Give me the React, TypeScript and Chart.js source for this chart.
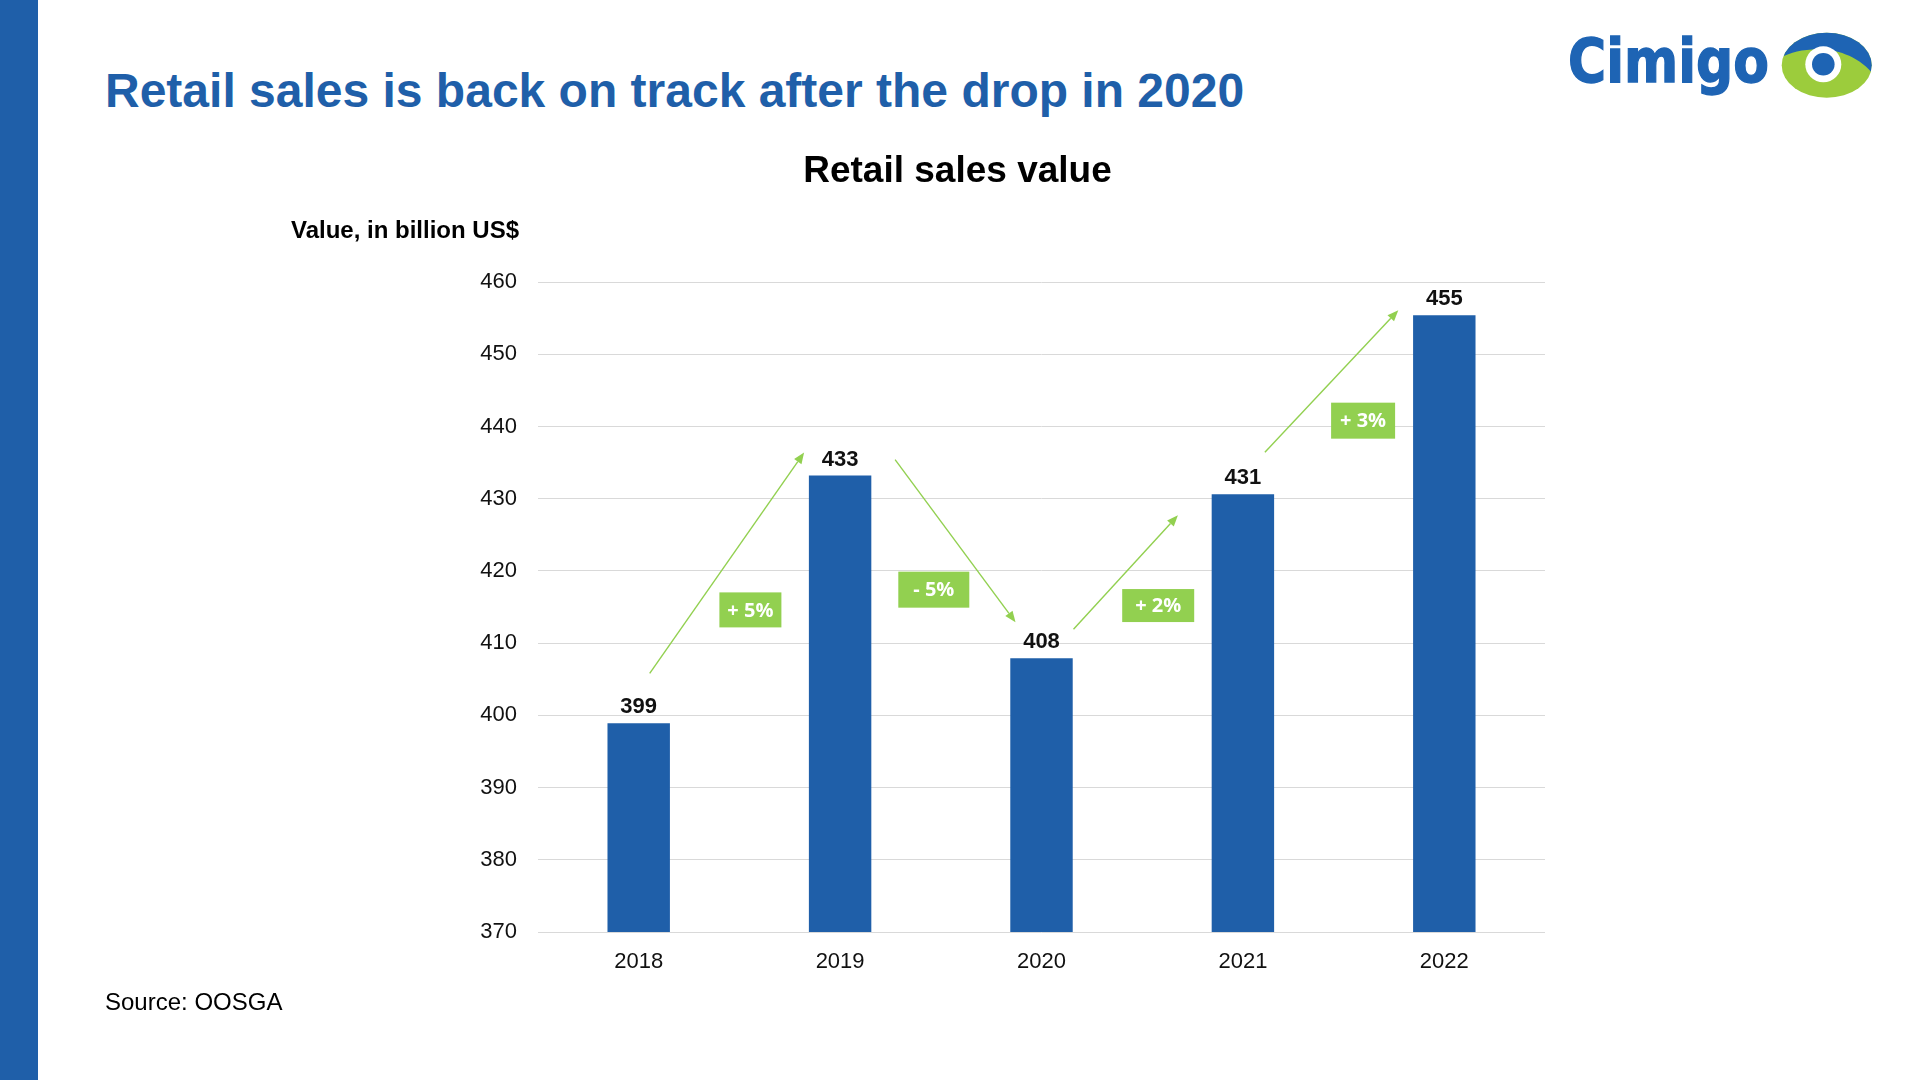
import React, { useEffect, useRef } from "react";
import { Chart, registerables } from "chart.js";

Chart.register(...registerables);

// ---- data ----
const years = ["2018", "2019", "2020", "2021", "2022"];
const salesValues = [398.9, 433.2, 407.9, 430.6, 455.4];
const valueLabels = ["399", "433", "408", "431", "455"];
const changeLabels = ["+ 5%", "- 5%", "+ 2%", "+ 3%"];
const yMin = 370;
const yMax = 460;
const yStep = 10;

// ---- annotation layout (pixel offsets relative to bars) ----
const arrowOffsets = [
  { from: [11, -50], to: [-36, -23] },
  { from: [55, -16], to: [-26, -36] },
  { from: [32, -29], to: [-65, 21] },
  { from: [22, -42], to: [-46, -5] },
];
const changeBoxes = [
  { dx: 11, v: 414.6, w: 62, h: 35 },
  { dx: -7, v: 417.4, w: 71, h: 36 },
  { dx: 16, v: 415.2, w: 72, h: 33 },
  { dx: 19.5, v: 440.8, w: 64, h: 36 },
];

const BLUE = "#1f5fa9";
const GREEN = "#92d050";
const ARIAL = '"Liberation Sans", Arial, sans-serif';

const annotationPlugin = {
  id: "annotationPlugin",
  afterDatasetsDraw(chart: any) {
    const ctx = chart.ctx;
    const ys = chart.scales.y;
    const meta = chart.getDatasetMeta(0);
    const cx = (i: number) => meta.data[i].x;
    const top = (i: number) => meta.data[i].y;

    ctx.save();
    // value labels
    ctx.fillStyle = "#111111";
    ctx.font = `bold 22px ${ARIAL}`;
    ctx.textAlign = "center";
    ctx.textBaseline = "alphabetic";
    salesValues.forEach((_, i) => {
      ctx.fillText(valueLabels[i], cx(i), top(i) - 10);
    });

    // arrows
    ctx.strokeStyle = GREEN;
    ctx.fillStyle = GREEN;
    ctx.lineWidth = 1.4;
    arrowOffsets.forEach((a, i) => {
      const x1 = cx(i) + a.from[0];
      const y1 = top(i) + a.from[1];
      const x2 = cx(i + 1) + a.to[0];
      const y2 = top(i + 1) + a.to[1];
      const ang = Math.atan2(y2 - y1, x2 - x1);
      const hl = 11;
      const hw = 4.5;
      const bx = x2 - hl * Math.cos(ang);
      const by = y2 - hl * Math.sin(ang);
      ctx.beginPath();
      ctx.moveTo(x1, y1);
      ctx.lineTo(bx, by);
      ctx.stroke();
      ctx.beginPath();
      ctx.moveTo(x2, y2);
      ctx.lineTo(bx + hw * Math.sin(ang), by - hw * Math.cos(ang));
      ctx.lineTo(bx - hw * Math.sin(ang), by + hw * Math.cos(ang));
      ctx.closePath();
      ctx.fill();
    });

    // change boxes
    changeBoxes.forEach((b, i) => {
      const mx = (cx(i) + cx(i + 1)) / 2 + b.dx;
      const my = ys.getPixelForValue(b.v);
      ctx.fillStyle = GREEN;
      ctx.fillRect(mx - b.w / 2, my - b.h / 2, b.w, b.h);
      ctx.fillStyle = "#ffffff";
      ctx.font = `bold 20px "Open Sans", sans-serif`;
      ctx.textAlign = "center";
      ctx.textBaseline = "middle";
      ctx.fillText(changeLabels[i], mx, my + 1);
    });
    ctx.restore();
  },
};

function Logo() {
  return (
    <div style={{ position: "absolute", left: 0, top: 0 }}>
      <div
        style={{
          position: "absolute",
          left: 1568,
          top: 31,
          fontFamily: '"DejaVu Sans", sans-serif',
          fontWeight: 700,
          fontSize: 52,
          lineHeight: "52px",
          color: "#1e64b4",
          whiteSpace: "nowrap",
          transform: "scaleY(1.16)",
          transformOrigin: "0 0",
          WebkitTextStroke: "1.2px #1e64b4",
        }}
      >
        Cimigo
      </div>
      <svg
        style={{ position: "absolute", left: 1780, top: 31 }}
        width={96}
        height={70}
        viewBox="0 0 96 70"
      >
        <defs>
          <clipPath id="eyeClip">
            <ellipse cx={46.7} cy={34.2} rx={45} ry={32.5} />
          </clipPath>
        </defs>
        <ellipse cx={46.7} cy={34.2} rx={45} ry={32.5} fill="#9ccc3c" />
        <path
          d="M 0 27 C 20 16, 66 10, 94 44 L 96 0 L 0 0 Z"
          fill="#1e64b4"
          clipPath="url(#eyeClip)"
        />
        <circle cx={43.3} cy={33.3} r={18} fill="#ffffff" />
        <circle cx={43.3} cy={33.3} r={11.3} fill="#1e64b4" />
      </svg>
    </div>
  );
}

export default function App() {
  const canvasRef = useRef<HTMLCanvasElement | null>(null);

  useEffect(() => {
    if (!canvasRef.current) return;
    const chart = new Chart(canvasRef.current, {
      type: "bar",
      data: {
        labels: years,
        datasets: [
          {
            data: salesValues,
            backgroundColor: BLUE,
            borderWidth: 0,
            barPercentage: 0.31,
            categoryPercentage: 1,
          },
        ],
      },
      options: {
        responsive: false,
        animation: false,
        layout: { padding: { left: 478, right: 375, top: 282, bottom: 88 } },
        plugins: {
          legend: { display: false },
          tooltip: { enabled: false },
          title: { display: false },
        },
        scales: {
          x: {
            grid: { display: false, drawTicks: false },
            border: { display: false },
            ticks: {
              color: "#111111",
              font: { family: ARIAL, size: 22 },
              padding: 17,
            },
            afterFit: (s: any) => {
              s.height = 60;
            },
          },
          y: {
            min: yMin,
            max: yMax,
            grid: { color: "#d9d9d9", lineWidth: 1, drawTicks: false },
            border: { display: false },
            ticks: {
              stepSize: yStep,
              color: "#111111",
              font: { family: ARIAL, size: 22 },
              padding: 21,
            },
            afterFit: (s: any) => {
              s.width = 60;
            },
          },
        },
      },
      plugins: [annotationPlugin],
    });
    return () => chart.destroy();
  }, []);

  return (
    <div
      style={{
        position: "fixed",
        left: 0,
        top: 0,
        width: 1920,
        height: 1080,
        background: "#ffffff",
        overflow: "hidden",
        fontFamily: ARIAL,
      }}
    >
      <div
        style={{
          position: "absolute",
          left: 0,
          top: 0,
          width: 38,
          height: 1080,
          background: BLUE,
        }}
      />
      <div
        style={{
          position: "absolute",
          left: 105,
          top: 67,
          fontSize: 48,
          lineHeight: "48px",
          fontWeight: 700,
          color: BLUE,
          whiteSpace: "nowrap",
        }}
      >
        Retail sales is back on track after the drop in 2020
      </div>
      <canvas
        ref={canvasRef}
        width={1920}
        height={1080}
        style={{ position: "absolute", left: 0, top: 0 }}
      />
      <div
        style={{
          position: "absolute",
          left: 0,
          width: 1915,
          top: 151,
          textAlign: "center",
          fontSize: 37,
          lineHeight: "37px",
          fontWeight: 700,
          color: "#000000",
          whiteSpace: "nowrap",
        }}
      >
        Retail sales value
      </div>
      <div
        style={{
          position: "absolute",
          right: 1920 - 519,
          top: 218,
          fontSize: 24,
          lineHeight: "24px",
          fontWeight: 700,
          color: "#000000",
          whiteSpace: "nowrap",
        }}
      >
        Value, in billion US$
      </div>
      <div
        style={{
          position: "absolute",
          left: 105,
          top: 990,
          fontSize: 24,
          lineHeight: "24px",
          color: "#000000",
          whiteSpace: "nowrap",
        }}
      >
        Source: OOSGA
      </div>
      <Logo />
    </div>
  );
}
